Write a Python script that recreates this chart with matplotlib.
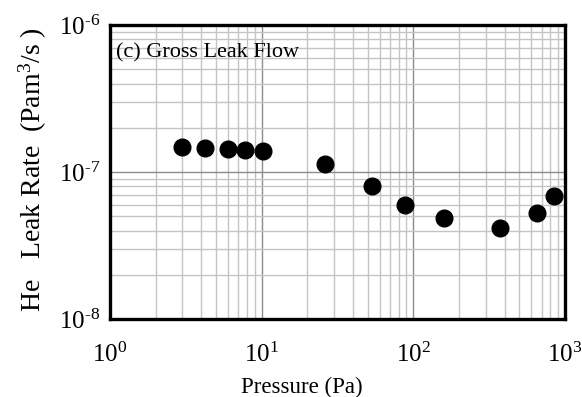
import matplotlib
matplotlib.use("Agg")
import matplotlib.pyplot as plt
from matplotlib.ticker import LogLocator, FixedLocator, NullFormatter

plt.rcParams['font.family'] = ['Liberation Serif']
plt.rcParams['mathtext.fontset'] = 'custom'
plt.rcParams['mathtext.rm'] = 'Liberation Serif'
plt.rcParams['mathtext.it'] = 'Liberation Serif'

pressure = [3.0, 4.2, 6.0, 7.8, 10.2, 26, 53, 88, 160, 375, 650, 850]
leak_rate = [1.48e-7, 1.46e-7, 1.43e-7, 1.42e-7, 1.39e-7, 1.13e-7,
             8.0e-8, 6.0e-8, 4.9e-8, 4.2e-8, 5.3e-8, 6.9e-8]

x_ticks = [1, 10, 100, 1000]
x_tick_labels = [r'$10^{0}$', r'$10^{1}$', r'$10^{2}$', r'$10^{3}$']
y_ticks = [1e-8, 1e-7, 1e-6]
y_tick_labels = [r'$10^{\text{-8}}$', r'$10^{\text{-7}}$', r'$10^{\text{-6}}$']

fig = plt.figure(figsize=(5.82, 3.97), dpi=100)
ax = fig.add_axes([0.189, 0.196, 0.782, 0.741])
ax.set_xscale('log')
ax.set_yscale('log')
ax.set_xlim(1, 1000)
ax.set_ylim(1e-8, 1e-6)

ax.plot(pressure, leak_rate, 'o', color='black', markersize=12, zorder=3, clip_on=False)

ax.xaxis.set_major_locator(FixedLocator(x_ticks))
ax.set_xticklabels(x_tick_labels)
ax.yaxis.set_major_locator(FixedLocator(y_ticks))
ax.set_yticklabels(y_tick_labels)
ax.xaxis.set_minor_locator(LogLocator(base=10, subs=range(2, 10)))
ax.yaxis.set_minor_locator(LogLocator(base=10, subs=range(2, 10)))
ax.xaxis.set_minor_formatter(NullFormatter())
ax.yaxis.set_minor_formatter(NullFormatter())

ax.grid(True, which='major', color='#8c8c8c', linewidth=1.0)
ax.grid(True, which='minor', color='#c4c4c4', linewidth=1.0)
ax.set_axisbelow(True)

ax.tick_params(which='both', length=0, labelsize=18)
ax.tick_params(axis='x', pad=17)
ax.tick_params(axis='y', pad=7)
for s in ax.spines.values():
    s.set_linewidth(2.4)

ax.text(0.014, 0.905, '(c) Gross Leak Flow', transform=ax.transAxes,
        fontsize=16, ha='left', va='center')
fig.text(302 / 582, 1 - 393 / 397, 'Pressure (Pa)', fontsize=16.5,
         ha='center', va='baseline')
fig.text(0.056, 1 - 170 / 397, r'He   Leak Rate  (Pam$^{3}$/s )', fontsize=20,
         rotation=90, ha='center', va='center')

fig.savefig('out.png', dpi=100)
